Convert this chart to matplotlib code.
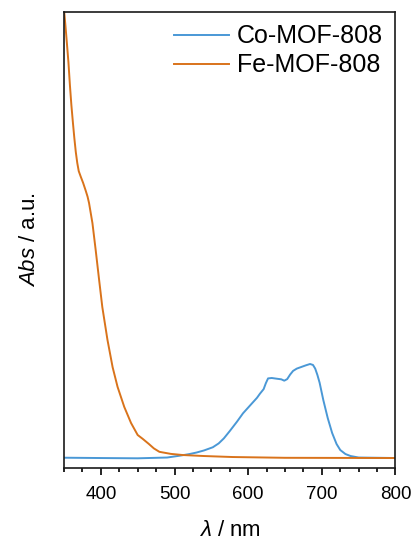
import matplotlib
matplotlib.use("Agg")
import matplotlib.pyplot as plt
from matplotlib.ticker import MultipleLocator

plt.rcParams['font.family'] = ['Liberation Sans', 'DejaVu Sans']
plt.rcParams['mathtext.fontset'] = 'custom'
plt.rcParams['mathtext.rm'] = 'Liberation Sans'
plt.rcParams['mathtext.it'] = 'Liberation Sans:italic'

# Co-MOF-808 spectrum
co_nm = [350, 400, 450, 490, 507, 520, 530, 540, 552, 560, 567, 575, 585, 593, 605, 612,
         616, 621, 624, 627, 632, 639, 645, 649, 653, 657, 661, 666, 672, 678, 684, 688,
         691, 694, 697, 702, 708, 714, 720, 725, 732, 739, 750, 800]
co_abs = [0.0226, 0.0219, 0.0213, 0.0230, 0.0270, 0.0305, 0.0340, 0.0385, 0.0455, 0.054,
          0.065, 0.081, 0.102, 0.1200, 0.1415, 0.1540, 0.1630, 0.1730, 0.1860, 0.1965,
          0.1974, 0.1958, 0.1945, 0.1915, 0.1950, 0.2050, 0.2130, 0.2180, 0.2215, 0.2250,
          0.2281, 0.2260, 0.2180, 0.2040, 0.1870, 0.1491, 0.1096, 0.0768, 0.0526, 0.0395,
          0.0307, 0.0263, 0.0230, 0.0219]

# Fe-MOF-808 spectrum
fe_nm = [350, 352, 354, 356, 358, 360, 362, 364, 366, 368, 370, 372.7, 376, 379.5, 382,
         384, 388.6, 393, 397.7, 402, 409, 416, 422.7, 431.8, 441, 450, 456.8, 465, 472,
         479.5, 495, 511, 540, 579, 650, 800]
fe_abs = [1.005, 0.969, 0.930, 0.890, 0.840, 0.796, 0.759, 0.724, 0.693, 0.669, 0.651,
          0.639, 0.625, 0.608, 0.595, 0.581, 0.537, 0.478, 0.412, 0.353, 0.281, 0.221,
          0.178, 0.134, 0.0987, 0.0724, 0.0640, 0.0530, 0.0430, 0.0355, 0.0310, 0.0285,
          0.0263, 0.0241, 0.0224, 0.0219]

fig = plt.figure(figsize=(4.14, 5.4), dpi=100)
ax = fig.add_axes([0.1546, 0.1333, 0.8007, 0.8445])

ax.plot(co_nm, co_abs, color='#4a98d6', lw=1.4, label='Co-MOF-808')
ax.plot(fe_nm, fe_abs, color='#d9731b', lw=1.4, label='Fe-MOF-808')

ax.set_xlim(350, 800)
ax.set_ylim(0, 1)
ax.xaxis.set_major_locator(MultipleLocator(100))
ax.xaxis.set_minor_locator(MultipleLocator(25))
ax.set_yticks([])
ax.tick_params(axis='x', which='major', direction='out', length=5, width=1.2,
               labelsize=13.5, pad=8)
ax.tick_params(axis='x', which='minor', direction='out', length=3, width=1.2)
for s in ax.spines.values():
    s.set_linewidth(1.2)
    s.set_color('#1a1a1a')

ax.set_xlabel(r'$\lambda$ / nm', fontsize=16, labelpad=12)
ax.set_ylabel(r'$Abs$ / a.u.', fontsize=16, labelpad=17)

ax.legend(loc='upper right', fontsize=18, frameon=False, handlelength=2.2,
          handletextpad=0.3, labelspacing=0.2, borderaxespad=0.1)

fig.savefig('out.png', dpi=100)
